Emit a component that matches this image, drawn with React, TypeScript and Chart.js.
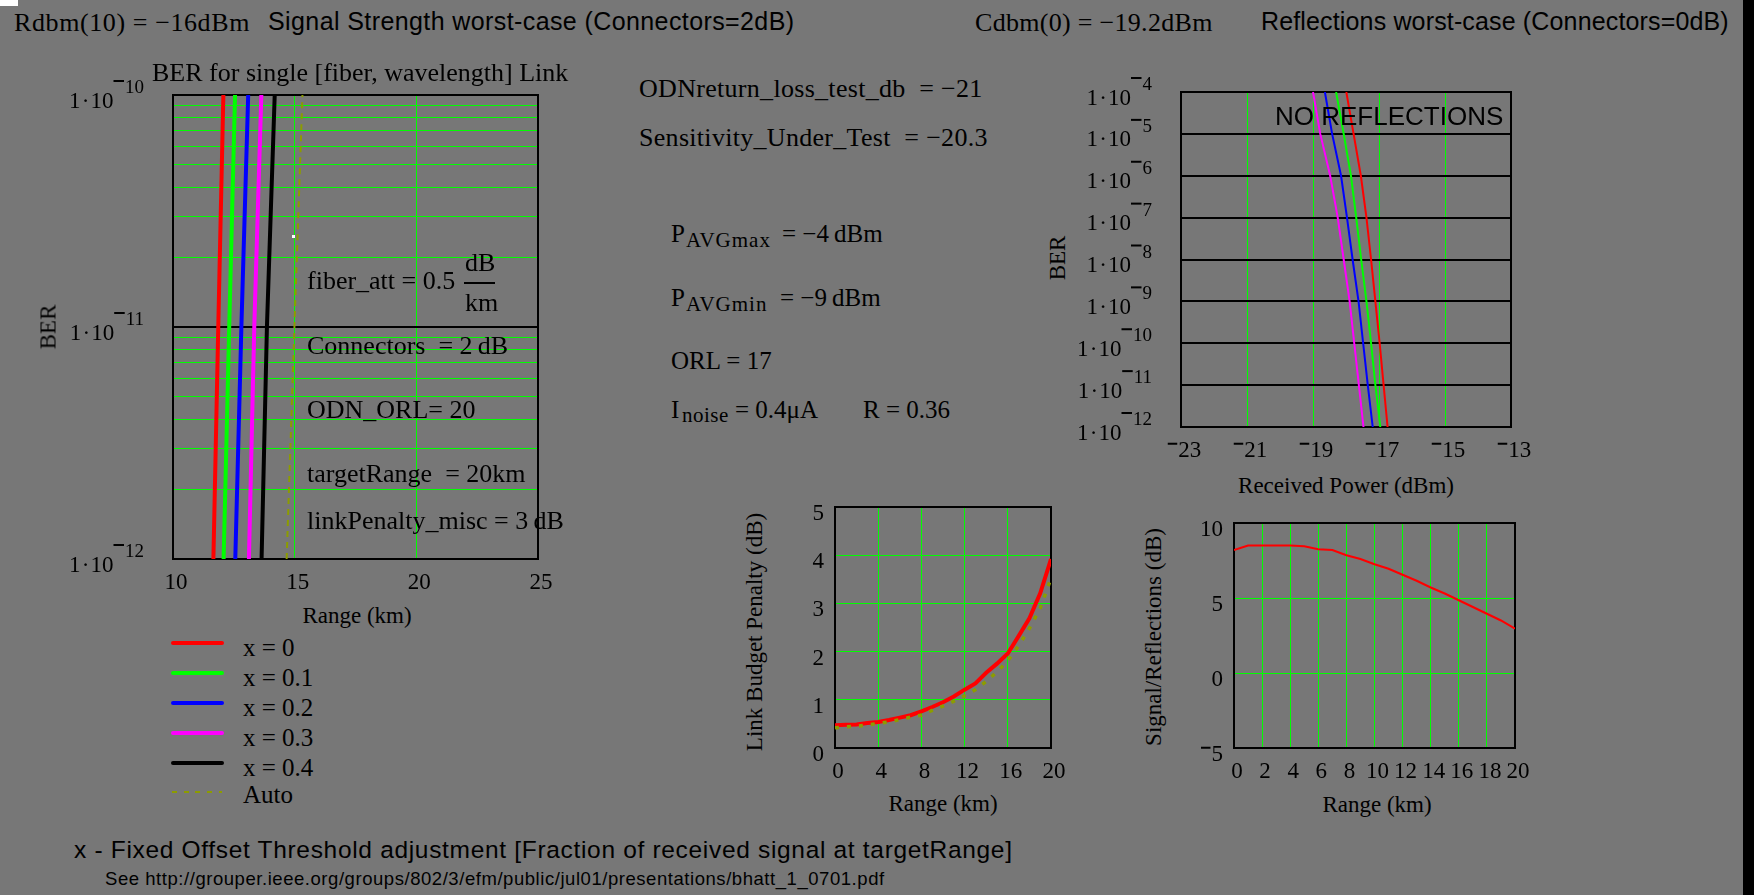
import React, { useEffect, useRef } from 'react';
import { Chart, registerables } from 'chart.js';
Chart.register(...registerables);

// ---------- Chart 1: BER vs Range (signal strength worst case) ----------
const berLevels1 = [1e-12, 1e-11, 1e-10];
const rangeX00 = [11.66, 11.86, 12.07];
const rangeX01 = [12.08, 12.31, 12.55];
const rangeX02 = [12.56, 12.81, 13.09];
const rangeX03 = [13.12, 13.34, 13.63];
const rangeX04 = [13.64, 13.86, 14.18];
const rangeAuto = [14.67, 14.99, 15.32];
const berGrid1 = [
  1e-12, 2e-12, 3e-12, 4e-12, 5e-12, 6e-12, 7e-12, 8e-12, 9e-12,
  1e-11, 2e-11, 3e-11, 4e-11, 5e-11, 6e-11, 7e-11, 8e-11, 9e-11, 1e-10,
];
const rangeAxis1 = [10, 25, 5];

// ---------- Chart 2: BER vs Received Power (no reflections) ----------
const berLevels2 = [1e-4, 1e-5, 1e-6, 1e-7, 1e-8, 1e-9, 1e-10, 1e-11, 1e-12];
const powerX00 = [-17.99, -17.77, -17.55, -17.38, -17.24, -17.11, -16.98, -16.86, -16.74];
const powerX01 = [-18.3, -18.07, -17.85, -17.69, -17.54, -17.38, -17.24, -17.11, -16.96];
const powerX02 = [-18.64, -18.42, -18.15, -17.97, -17.8, -17.62, -17.48, -17.34, -17.19];
const powerX03 = [-19.0, -18.78, -18.48, -18.25, -18.07, -17.89, -17.75, -17.61, -17.47];
const berGrid2 = [1e-12, 1e-11, 1e-10, 1e-9, 1e-8, 1e-7, 1e-6, 1e-5, 1e-4];
const powerAxis2 = [-23, -13, 2];

// ---------- Chart 3: Link budget penalty vs range ----------
const rangeKm = [0, 1, 2, 3, 4, 5, 6, 7, 8, 9, 10, 11, 12, 13, 14, 15, 16, 17, 18, 19, 20];
const penaltyX0 = [0.47, 0.48, 0.49, 0.52, 0.54, 0.58, 0.63, 0.68, 0.76, 0.85, 0.95, 1.07, 1.21, 1.34, 1.56, 1.75, 1.96, 2.32, 2.69, 3.21, 3.92];
const penaltyAuto = [0.42, 0.44, 0.45, 0.48, 0.51, 0.54, 0.59, 0.64, 0.68, 0.78, 0.87, 0.97, 1.08, 1.21, 1.38, 1.58, 1.81, 2.12, 2.48, 2.9, 3.52];
const rangeAxis3 = [0, 20, 4];
const penaltyAxis3 = [0, 5, 1];

// ---------- Chart 4: Signal / reflections vs range ----------
const signalReflections = [8.2, 8.5, 8.5, 8.5, 8.5, 8.45, 8.25, 8.2, 7.85, 7.6, 7.25, 6.95, 6.55, 6.15, 5.7, 5.3, 4.85, 4.4, 3.95, 3.5, 2.95];
const rangeAxis4 = [0, 20, 2];
const srAxis4 = [-5, 10, 5];

// ---------- legend ----------
const legendLabels = ['x = 0', 'x = 0.1', 'x = 0.2', 'x = 0.3', 'x = 0.4', 'Auto'];

const SERIF = '"Liberation Serif", "Times New Roman", serif';
const SANS = '"Liberation Sans", Arial, sans-serif';
const BG = '#777777';
const GREEN = '#00ff00';
const OLIVE = '#8c9c00';
const seriesColors = ['#ff0000', '#00ff00', '#0000ff', '#ff00ff', '#000000'];

function fmt(v: number): string {
  return v < 0 ? '\u2212' + String(Math.abs(v)) : String(v);
}

function isDecade(v: number): boolean {
  const e = Math.log10(v);
  return Math.abs(e - Math.round(e)) < 1e-6;
}

function drawSigned(ctx: CanvasRenderingContext2D, text: string, x: number, baseline: number, size: number, align: string) {
  const neg = text.charAt(0) === '\u2212';
  const digits = neg ? text.slice(1) : text;
  ctx.font = `${size}px ${SERIF}`;
  ctx.textAlign = 'left';
  ctx.textBaseline = 'alphabetic';
  const dw = ctx.measureText(digits).width;
  const mw = neg ? size * 0.5 : 0;
  const total = dw + mw;
  const start = align === 'center' ? x - total / 2 : align === 'right' ? x - total : x;
  if (neg) ctx.fillRect(start + 1, baseline - size * 0.62, mw - 2, 2);
  ctx.fillText(digits, start + mw, baseline);
}

const mathcadAxes = {
  id: 'mathcadAxes',
  beforeDatasetsDraw(chart: any) {
    const a = chart.chartArea;
    const ctx = chart.ctx;
    ctx.save();
    ctx.strokeStyle = '#000';
    ctx.lineWidth = 2;
    ctx.strokeRect(a.left, a.top, a.right - a.left, a.bottom - a.top);
    ctx.restore();
  },
  afterDraw(chart: any, _args: any, opts: any) {
    const ctx = chart.ctx as CanvasRenderingContext2D;
    const a = chart.chartArea;
    const xs = chart.scales.x;
    const ys = chart.scales.y;
    const size = 23;
    ctx.save();
    ctx.fillStyle = '#000';
    xs.ticks.forEach((t: any) => {
      const px = xs.getPixelForValue(t.value) + 3;
      drawSigned(ctx, fmt(t.value), px, a.bottom + 30, size, 'center');
    });
    ys.ticks.forEach((t: any) => {
      const py = ys.getPixelForValue(t.value);
      if (opts && opts.log) {
        if (!isDecade(t.value)) return;
        const ei = Math.round(Math.log10(t.value));
        const supRight = a.left - 29;
        ctx.font = `19px ${SERIF}`;
        ctx.textAlign = 'right';
        ctx.textBaseline = 'alphabetic';
        const digits = String(Math.abs(ei));
        const dw = ctx.measureText(digits).width;
        ctx.fillText(digits, supRight, py - 2);
        const barX = supRight - dw - 11.5;
        ctx.fillRect(barX, py - 15, 10.5, 2);
        ctx.font = `${size}px ${SERIF}`;
        ctx.fillText('10', barX, py + 12.5);
        ctx.fillText('\u00B7', barX - 24, py + 12.5);
        ctx.fillText('1', barX - 33, py + 12.5);
      } else {
        drawSigned(ctx, fmt(t.value), a.left - 11, py + 13, size, 'right');
      }
    });
    ctx.restore();
  },
};

function linAxis(axis: number[], grid: any) {
  return {
    type: 'linear',
    min: axis[0],
    max: axis[1],
    ticks: { display: false, stepSize: axis[2] },
    grid: { color: grid, lineWidth: 1, drawTicks: false },
    border: { display: false },
    title: { display: false },
    afterFit: (s: any) => {
      if (s.isHorizontal()) s.height = 0;
      else s.width = 0;
    },
  };
}

function logAxis(min: number, max: number, gridVals: number[], greenMinor: boolean) {
  return {
    type: 'logarithmic',
    min,
    max,
    ticks: { display: false },
    afterBuildTicks: (s: any) => {
      s.ticks = gridVals.map((v) => ({ value: v, major: isDecade(v) }));
    },
    grid: {
      color: (c: any) => (greenMinor && !isDecade(c.tick.value) ? GREEN : '#000'),
      lineWidth: (c: any) => (isDecade(c.tick.value) ? 2 : 1),
      drawTicks: false,
    },
    border: { display: false },
    title: { display: false },
    afterFit: (s: any) => {
      s.width = 0;
    },
  };
}

function lineDs(points: { x: number; y: number }[], color: string, width: number, dash: number[] = []) {
  return {
    data: points,
    borderColor: color,
    backgroundColor: color,
    borderWidth: width,
    borderDash: dash,
    pointRadius: 0,
    fill: false,
    tension: 0,
  };
}

function baseOptions(padding: any, scales: any, log: boolean) {
  return {
    responsive: false,
    maintainAspectRatio: false,
    animation: false,
    devicePixelRatio: 1,
    events: [],
    layout: { padding },
    plugins: {
      legend: { display: false },
      title: { display: false },
      tooltip: { enabled: false },
      mathcadAxes: { log },
    },
    scales,
  };
}

function config1() {
  const sets = [rangeX00, rangeX01, rangeX02, rangeX03, rangeX04];
  const datasets: any[] = sets.map((xs, i) =>
    lineDs(xs.map((x, j) => ({ x, y: berLevels1[j] })), seriesColors[i], 4)
  );
  datasets.push(lineDs(rangeAuto.map((x, j) => ({ x, y: berLevels1[j] })), OLIVE, 2, [6, 5]));
  return {
    type: 'line',
    data: { datasets },
    options: baseOptions(
      { left: 118, top: 25, right: 22, bottom: 41 },
      { x: linAxis(rangeAxis1, GREEN), y: logAxis(1e-12, 1e-10, berGrid1, true) },
      true
    ),
    plugins: [mathcadAxes],
  };
}

function config2() {
  const sets = [powerX00, powerX01, powerX02, powerX03];
  const datasets = sets.map((xs, i) =>
    lineDs(xs.map((x, j) => ({ x, y: berLevels2[j] })), seriesColors[i], 2)
  );
  return {
    type: 'line',
    data: { datasets },
    options: baseOptions(
      { left: 111, top: 27, right: 24, bottom: 38 },
      { x: linAxis(powerAxis2, GREEN), y: logAxis(1e-12, 1e-4, berGrid2, false) },
      true
    ),
    plugins: [mathcadAxes],
  };
}

function config3() {
  const datasets = [
    lineDs(rangeKm.map((x, i) => ({ x, y: penaltyAuto[i] })), OLIVE, 3.5, [4, 8]),
    lineDs(rangeKm.map((x, i) => ({ x, y: penaltyX0[i] })), '#ff0000', 4),
  ];
  return {
    type: 'line',
    data: { datasets },
    options: baseOptions(
      { left: 45, top: 12, right: 29, bottom: 42 },
      { x: linAxis(rangeAxis3, GREEN), y: linAxis(penaltyAxis3, GREEN) },
      false
    ),
    plugins: [mathcadAxes],
  };
}

function config4() {
  const datasets = [lineDs(rangeKm.map((x, i) => ({ x, y: signalReflections[i] })), '#ff0000', 2)];
  return {
    type: 'line',
    data: { datasets },
    options: baseOptions(
      { left: 54, top: 18, right: 25, bottom: 42 },
      { x: linAxis(rangeAxis4, GREEN), y: linAxis(srAxis4, GREEN) },
      false
    ),
    plugins: [mathcadAxes],
  };
}

function ChartBox(props: { left: number; top: number; width: number; height: number; make: () => any }) {
  const ref = useRef<HTMLCanvasElement>(null);
  useEffect(() => {
    const chart = new Chart(ref.current as HTMLCanvasElement, props.make());
    return () => chart.destroy();
  }, []);
  return (
    <canvas
      ref={ref}
      width={props.width}
      height={props.height}
      style={{ position: 'absolute', left: props.left, top: props.top, width: props.width, height: props.height }}
    />
  );
}

function T(props: { x: number; y: number; size?: number; sans?: boolean; center?: boolean; ls?: number; children: any }) {
  const size = props.size || 26;
  const asc = props.sans ? 0.8465 : 0.8375;
  return (
    <div
      style={{
        position: 'absolute',
        left: props.x,
        top: props.y - asc * size,
        fontFamily: props.sans ? SANS : SERIF,
        fontSize: size,
        lineHeight: `${size}px`,
        whiteSpace: 'pre',
        color: '#000',
        letterSpacing: props.ls || 0,
        transform: props.center ? 'translateX(-50%)' : undefined,
      }}
    >
      {props.children}
    </div>
  );
}

function RT(props: { cx: number; cy: number; size?: number; children: any }) {
  const size = props.size || 23;
  return (
    <div
      style={{
        position: 'absolute',
        left: props.cx,
        top: props.cy,
        fontFamily: SERIF,
        fontSize: size,
        lineHeight: `${size}px`,
        whiteSpace: 'pre',
        color: '#000',
        transform: 'translate(-50%, -50%) rotate(-90deg)',
      }}
    >
      {props.children}
    </div>
  );
}

export default function App() {
  const legendY = [643, 673, 703, 733, 763, 792];
  const legendBase = [656, 686, 716, 746, 776, 803];
  return (
    <div style={{ position: 'fixed', left: 0, top: 0, width: 1754, height: 895, background: BG, overflow: 'hidden' }}>
      <div style={{ position: 'absolute', left: 0, top: 0, width: 18, height: 6, background: '#fff' }} />
      <div style={{ position: 'absolute', left: 1743, top: 0, width: 11, height: 895, background: '#000' }} />

      <ChartBox left={55} top={70} width={505} height={530} make={config1} />
      <ChartBox left={1070} top={65} width={465} height={400} make={config2} />
      <ChartBox left={790} top={495} width={290} height={295} make={config3} />
      <ChartBox left={1180} top={505} width={360} height={285} make={config4} />

      {/* header */}
      <T x={14} y={32} ls={0.6}>Rdbm(10) = {'\u2212'}16dBm</T>
      <T x={268} y={30} sans size={25} ls={0.4}>Signal Strength worst-case (Connectors=2dB)</T>
      <T x={975} y={32} ls={0.3}>Cdbm(0) = {'\u2212'}19.2dBm</T>
      <T x={1261} y={30} sans size={25} ls={0.15}>Reflections worst-case (Connectors=0dB)</T>

      {/* chart 1 texts */}
      <T x={152} y={82}>BER for single [fiber, wavelength] Link</T>
      <T x={307} y={290}>fiber_att = 0.5</T>
      <T x={465} y={272}>dB</T>
      <div style={{ position: 'absolute', left: 464, top: 282, width: 31, height: 2, background: '#000' }} />
      <T x={465} y={312}>km</T>
      <T x={307} y={355}>Connectors  = 2{'\u2009'}dB</T>
      <T x={307} y={419}>ODN_ORL= 20</T>
      <T x={307} y={483}>targetRange  = 20km</T>
      <T x={307} y={530}>linkPenalty_misc = 3{'\u2009'}dB</T>
      <div style={{ position: 'absolute', left: 292, top: 235, width: 3, height: 3, background: '#fff' }} />
      <RT cx={48} cy={327}>BER</RT>
      <T x={357} y={623} size={23} center>Range (km)</T>

      {/* legend */}
      {legendLabels.map((lab, i) => (
        <React.Fragment key={lab}>
          {i < 5 ? (
            <div style={{ position: 'absolute', left: 171, top: legendY[i] - 2, width: 53, height: 4, background: seriesColors[i], borderRadius: 2 }} />
          ) : (
            <div
              style={{
                position: 'absolute',
                left: 172,
                top: legendY[i] - 1,
                width: 50,
                height: 2,
                background: `repeating-linear-gradient(to right, ${OLIVE} 0px, ${OLIVE} 5px, transparent 5px, transparent 11.7px)`,
              }}
            />
          )}
          <T x={243} y={legendBase[i]} size={25}>{lab}</T>
        </React.Fragment>
      ))}

      {/* middle parameters */}
      <T x={639} y={98} ls={0.3}>ODNreturn_loss_test_db  = {'\u2212'}21</T>
      <T x={639} y={147} ls={0.3}>Sensitivity_Under_Test  = {'\u2212'}20.3</T>
      <T x={671} y={242} size={25}>P</T>
      <T x={686} y={248} size={21} ls={1}>AVGmax</T>
      <T x={782} y={242} size={25}>= {'\u2212'}4{'\u2009'}dBm</T>
      <T x={671} y={306} size={25}>P</T>
      <T x={686} y={312} size={21} ls={1}>AVGmin</T>
      <T x={780} y={306} size={25}>= {'\u2212'}9{'\u2009'}dBm</T>
      <T x={671} y={369} size={25}>ORL = 17</T>
      <T x={671} y={418} size={25}>I</T>
      <T x={682} y={423} size={21} ls={0.5}>noise</T>
      <T x={735} y={418} size={25}>= 0.4{'\u03BC'}A</T>
      <T x={863} y={418} size={25}>R = 0.36</T>

      {/* chart 2 texts */}
      <T x={1275} y={125} sans size={26}>NO REFLECTIONS</T>
      <RT cx={1057} cy={258}>BER</RT>
      <T x={1346} y={493} size={23} center>Received Power (dBm)</T>

      {/* chart 3 texts */}
      <RT cx={754} cy={632}>Link Budget Penalty (dB)</RT>
      <T x={943} y={811} size={23} center>Range (km)</T>

      {/* chart 4 texts */}
      <RT cx={1153} cy={637}>Signal/Reflections (dB)</RT>
      <T x={1377} y={812} size={23} center>Range (km)</T>

      {/* footer */}
      <T x={74} y={859} sans size={24.5} ls={0.68}>x - Fixed Offset Threshold adjustment [Fraction of received signal at targetRange]</T>
      <T x={105} y={886} sans size={18.5} ls={0.55}>See http://grouper.ieee.org/groups/802/3/efm/public/jul01/presentations/bhatt_1_0701.pdf</T>
    </div>
  );
}
